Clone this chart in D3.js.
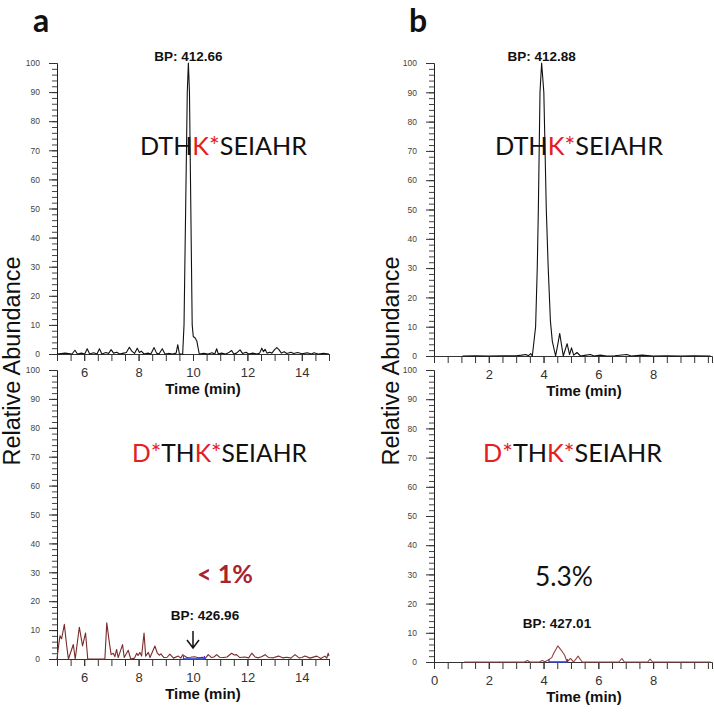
<!DOCTYPE html>
<html><head><meta charset="utf-8">
<script src="https://cdn.jsdelivr.net/npm/d3@7"></script>
<style>body{margin:0;background:#fff}svg{display:block}</style>
</head><body>
<script>
// ---- data (time in min, relative abundance %) ----
const traceATop = [[5.0,0],[5.3,0.3],[5.55,0],[5.66,1.3],[5.75,0],[5.9,0.3],[6.02,0],[6.11,1.8],[6.2,0],[6.35,0.4],[6.47,0],[6.56,1.8],[6.65,0],[6.8,0.5],[6.9,0.2],[6.99,1.5],[7.08,0.3],[7.2,0.6],[7.3,0],[7.45,0.3],[7.55,0.5],[7.66,2.3],[7.75,1.0],[7.85,0.2],[7.95,2.0],[8.03,0.5],[8.1,1],[8.2,0],[8.35,0.3],[8.45,0],[8.57,2.2],[8.66,0.3],[8.75,0],[8.87,1.8],[8.97,0],[9.1,0.2],[9.25,0],[9.38,0.3],[9.44,3.2],[9.5,0],[9.62,0],[9.67,10],[9.73,50],[9.79,90],[9.83,100],[9.87,90],[9.92,50],[9.97,10],[10.01,6],[10.08,5.5],[10.14,4.5],[10.23,0],[10.4,0.2],[10.55,0],[10.7,0.4],[10.8,0],[10.87,1.8],[10.93,0],[11.05,0.3],[11.2,0],[11.3,0.4],[11.42,1.2],[11.5,0],[11.6,0.3],[11.73,1.4],[11.82,0.2],[11.95,0.6],[12.05,0],[12.2,0.3],[12.35,0],[12.45,0.3],[12.53,2.0],[12.59,0.8],[12.65,1.6],[12.72,0.3],[12.82,0.6],[12.9,0.3],[13.0,1.5],[13.08,2.2],[13.16,1.5],[13.25,0.3],[13.35,0.8],[13.45,0.2],[13.6,0.6],[13.7,0.2],[13.85,0.5],[14.0,0.1],[14.2,0.4],[14.35,0],[14.45,0.4],[14.6,0],[14.8,0.2],[15,0]];
const traceABottom = [[5.0,0],[5.05,4],[5.11,8],[5.17,7],[5.27,12],[5.35,5],[5.42,0],[5.6,5],[5.67,0],[5.82,11],[5.94,4.5],[6.05,9],[6.13,0],[6.5,0],[6.76,0],[6.83,12.5],[6.92,6],[6.99,1.5],[7.07,2],[7.13,0.8],[7.19,3.3],[7.25,0.5],[7.41,5],[7.47,0.5],[7.62,3],[7.71,0],[7.85,0.3],[7.93,2],[7.98,1.2],[8.05,2.3],[8.11,1],[8.2,9],[8.26,1],[8.36,2.3],[8.42,0.5],[8.6,4.5],[8.69,2],[8.76,1.3],[8.82,1.8],[8.93,0.5],[9.05,0.6],[9.15,1.7],[9.28,0.3],[9.46,1],[9.55,0.3],[9.62,1.5],[9.77,0.5],[9.9,0.6],[10.05,0.8],[10.2,0.4],[10.35,0.6],[10.45,0.2],[10.56,1.5],[10.68,0.5],[10.77,0.7],[10.87,1.5],[10.98,0.6],[11.11,0.5],[11.25,0.7],[11.42,2],[11.52,1.4],[11.6,1.5],[11.72,0.5],[11.9,0.7],[12.05,0.4],[12.16,2],[12.28,0.7],[12.4,0.4],[12.52,0.8],[12.65,1.5],[12.78,0.5],[12.95,0.4],[13.14,1],[13.3,0.4],[13.45,0.6],[13.6,0.3],[13.75,1.5],[13.9,0.4],[14.0,0.5],[14.12,1],[14.3,0.3],[14.55,1],[14.7,0.2],[14.85,1],[14.92,0.3],[14.97,2],[15,1]];
const traceBTop = [[1.04,0],[1.5,0.1],[2.0,0],[2.5,0.1],[3.0,0.1],[3.2,0.3],[3.35,0.5],[3.45,0.1],[3.53,0.8],[3.59,0],[3.71,10],[3.77,30],[3.81,50],[3.87,90],[3.93,100],[4.01,90],[4.10,50],[4.17,30],[4.25,12],[4.32,5],[4.44,0],[4.52,4],[4.59,7.7],[4.72,0],[4.86,4.2],[4.95,0.5],[5.02,2.8],[5.1,0.3],[5.22,1.2],[5.35,0],[5.5,0.2],[5.71,0.5],[5.85,0],[6.07,0.3],[6.3,0],[6.6,0.1],[7.04,0.5],[7.2,0],[7.6,0.3],[8,0],[8.5,0.1],[9,0],[9.5,0.1],[10.1,0]];
const traceBBottom = [[1.1,0],[2,0],[3,0],[3.3,0],[3.41,0.5],[3.5,0],[3.85,0],[3.95,0.5],[4.05,0.1],[4.19,0.8],[4.3,1.5],[4.37,3],[4.52,5.5],[4.65,4],[4.77,2.3],[4.86,0],[4.98,1.2],[5.1,0],[5.26,2],[5.41,0],[6,0],[6.75,0],[6.86,1.2],[6.95,0],[7.8,0],[7.89,1],[7.98,0],[9,0],[10.1,0]];
const integA = [9.65, 10.42];
const integB = [4.2, 4.87];
const xTicksA = [6, 8, 10, 12, 14];
const xTicksBTop = [2, 4, 6, 8];
const xTicksBBottom = [0, 2, 4, 6, 8];
const yTicks = [0,10,20,30,40,50,60,70,80,90,100];
const bpLabels = ["BP: 412.66", "BP: 426.96", "BP: 412.88", "BP: 427.01"];
const percentLabels = ["< 1%", "5.3%"];
const panelLetters = ["a", "b"];

const W = 714, H = 714;
const svg = d3.select("body").append("svg").attr("width", W).attr("height", H);

function panel(opt) {
  const x = d3.scaleLinear().domain(opt.xDomain).range(opt.xRange);
  const y = d3.scaleLinear().domain([0, 100]).range(opt.yRange);
  const g = svg.append("g");
  const yMinor = d3.range(0, 101, 2);
  g.append("g").attr("transform", `translate(${opt.xRange[0]},0)`)
    .call(d3.axisLeft(y).tickValues(yMinor).tickSize(5).tickFormat(""))
    .call(s => s.selectAll("path").attr("stroke", "#222"))
    .call(s => s.selectAll("line").attr("stroke", "#444"));
  g.append("g").attr("transform", `translate(${opt.xRange[0]},0)`)
    .call(d3.axisLeft(y).tickValues(yTicks).tickSize(8).tickPadding(9).tickFormat(d3.format("d")))
    .call(s => s.select(".domain").remove())
    .call(s => s.selectAll("line").attr("stroke", "#333"))
    .call(s => s.selectAll("text").attr("font-family", "Liberation Sans, Arial").attr("font-size", 8.5).attr("fill", "#444"));
  const xMinor = d3.range(opt.xDomain[0], opt.xDomain[1] + 0.001, 0.5);
  g.append("g").attr("transform", `translate(0,${opt.yRange[0]})`)
    .call(d3.axisBottom(x).tickValues(xMinor).tickSize(7).tickFormat(""))
    .call(s => s.selectAll("path").attr("stroke", "#333"))
    .call(s => s.selectAll("line").attr("stroke", "#333"));
  g.append("g").attr("transform", `translate(0,${opt.yRange[0]})`)
    .call(d3.axisBottom(x).tickValues(opt.xTicks).tickSize(7).tickPadding(7).tickFormat(d3.format("d")))
    .call(s => s.select(".domain").remove())
    .call(s => s.selectAll("line").attr("stroke", "#333"))
    .call(s => s.selectAll("text").attr("font-family", "Liberation Sans, Arial").attr("font-size", 13).attr("fill", "#333"));
  g.append("text").attr("x", opt.timeX).attr("y", opt.yRange[0] + 40)
    .attr("text-anchor", "middle").attr("font-family", "Liberation Sans, Arial")
    .attr("font-weight", "bold").attr("font-size", 15).attr("fill", "#111").text("Time (min)");
  const line = d3.line().x(d => x(d[0])).y(d => y(d[1]));
  g.append("path").datum(opt.data).attr("d", line).attr("fill", "none")
    .attr("stroke", opt.color).attr("stroke-width", 1.1).attr("stroke-linejoin", "round");
  if (opt.integ) {
    const yb = y(0);
    g.append("line").attr("x1", x(opt.integ[0])).attr("x2", x(opt.integ[1]))
      .attr("y1", yb).attr("y2", yb).attr("stroke", "#3040d0").attr("stroke-width", 1.6);
    opt.integ.forEach(t => g.append("line").attr("x1", x(t)).attr("x2", x(t))
      .attr("y1", yb).attr("y2", yb - 3).attr("stroke", "#3040d0").attr("stroke-width", 1.2));
  }
  return {x, y, g};
}

const aTop = panel({xDomain:[5,15], xRange:[57,329], yRange:[354,63], xTicks:xTicksA, data:traceATop, color:"#111", timeX:203});
const aBot = panel({xDomain:[5,15], xRange:[57,329], yRange:[659,370], xTicks:xTicksA, data:traceABottom, color:"#7a2a2a", timeX:203, integ:integA});
const bTop = panel({xDomain:[0,10.15], xRange:[434,712], yRange:[356,63], xTicks:xTicksBTop, data:traceBTop, color:"#111", timeX:584});
const bBot = panel({xDomain:[0,10.15], xRange:[434,712], yRange:[662,370], xTicks:xTicksBBottom, data:traceBBottom, color:"#9a3f3f", timeX:584, integ:integB});

[[12,361],[391,361]].forEach(([cx, cy]) => {
  svg.append("text").attr("transform", `translate(${cx + 8},${cy}) rotate(-90)`)
    .attr("text-anchor", "middle").attr("font-family", "Liberation Sans, Arial")
    .attr("font-size", 23.5).attr("fill", "#111").text("Relative Abundance");
});

svg.append("text").attr("x", 33).attr("y", 32).attr("font-family", "Lato, sans-serif")
  .attr("font-weight", "bold").attr("font-size", 32).attr("fill", "#111").text(panelLetters[0]);
svg.append("text").attr("x", 409).attr("y", 32).attr("font-family", "Lato, sans-serif")
  .attr("font-weight", "bold").attr("font-size", 32).attr("fill", "#111").text(panelLetters[1]);

function bp(txt, cx, by) {
  svg.append("text").attr("x", cx).attr("y", by).attr("text-anchor", "middle")
    .attr("font-family", "Liberation Sans, Arial").attr("font-weight", "bold")
    .attr("font-size", 13.5).attr("fill", "#111").text(txt);
}
bp(bpLabels[0], aTop.x(9.83), 61);
bp(bpLabels[1], 205, 620);
bp(bpLabels[2], bTop.x(3.93), 61);
bp(bpLabels[3], 557, 628);

const ax = aBot.x(10);
svg.append("path").attr("d", `M${ax},631 L${ax},648 M${ax-6},640 L${ax},648 L${ax+6},640`)
  .attr("fill", "none").attr("stroke", "#111").attr("stroke-width", 1.5);

const RED = "#e3201f", BLK = "#111";
function pep(parts, x0, x1, by) {
  const t = svg.append("text").attr("x", x0).attr("y", by)
    .attr("font-family", "Lato, sans-serif").attr("font-size", 25)
    .attr("textLength", x1 - x0).attr("lengthAdjust", "spacingAndGlyphs");
  parts.forEach(([s, c]) => t.append("tspan").attr("fill", c).text(s));
}
pep([["DTH",BLK],["K*",RED],["SEIAHR",BLK]], 140, 307, 155);
pep([["DTH",BLK],["K*",RED],["SEIAHR",BLK]], 495, 663, 155);
pep([["D*",RED],["TH",BLK],["K*",RED],["SEIAHR",BLK]], 132, 307, 462);
pep([["D*",RED],["TH",BLK],["K*",RED],["SEIAHR",BLK]], 483, 662, 462);

svg.append("text").attr("x", 197).attr("y", 583).attr("font-family", "Lato, sans-serif")
  .attr("font-weight", "bold").attr("font-size", 24).attr("fill", "#a8232b")
  .attr("textLength", 56).attr("lengthAdjust", "spacingAndGlyphs").text(percentLabels[0]);
svg.append("text").attr("x", 535).attr("y", 586).attr("font-family", "Lato, sans-serif")
  .attr("font-size", 26).attr("fill", "#111")
  .attr("textLength", 58).attr("lengthAdjust", "spacingAndGlyphs").text(percentLabels[1]);
</script>
</body></html>
